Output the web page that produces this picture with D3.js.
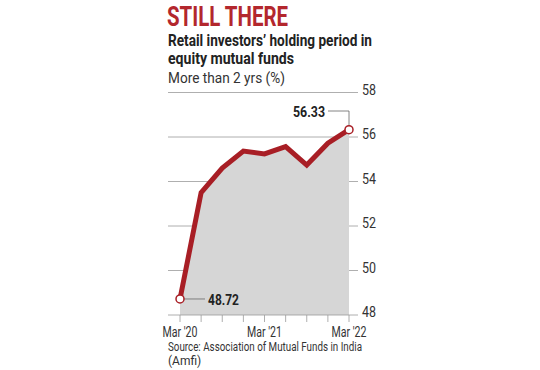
<!DOCTYPE html>
<html>
<head>
<meta charset="utf-8">
<script src="https://cdn.jsdelivr.net/npm/d3@7"></script>
<style>
  body { margin: 0; background: #fff; }
  text { font-family: "Liberation Sans Narrow", "Roboto", sans-serif; }
</style>
</head>
<body>
<div id="chart"></div>
<script>
// data
var quarters = ["Mar '20", "Jun '20", "Sep '20", "Dec '20", "Mar '21", "Jun '21", "Sep '21", "Dec '21", "Mar '22"]
var holding = [48.72, 53.5, 54.6, 55.37, 55.24, 55.57, 54.74, 55.72, 56.33]
var xLabels = ["Mar '20", "Mar '21", "Mar '22"]
var yTicks = [48, 50, 52, 54, 56, 58]

var red = "#a81e25"

var svg = d3.select("#chart")
  .append("svg")
    .attr("width", 540)
    .attr("height", 370)

// scales
var x = d3.scalePoint()
  .domain(quarters)
  .range([180, 349])
var y = d3.scaleLinear()
  .domain([48, 58])
  .range([315, 92.5])

// titles
svg.append("text")
  .attr("x", 167).attr("y", 25.5)
  .attr("font-size", 27).attr("font-weight", "bold")
  .attr("fill", "#b3272d")
  .attr("textLength", 121).attr("lengthAdjust", "spacingAndGlyphs")
  .text("STILL THERE")
svg.append("text")
  .attr("x", 168).attr("y", 46)
  .attr("font-size", 16).attr("font-weight", "bold").attr("fill", "#222")
  .attr("textLength", 204).attr("lengthAdjust", "spacingAndGlyphs")
  .text("Retail investors\u2019 holding period in")
svg.append("text")
  .attr("x", 168).attr("y", 64)
  .attr("font-size", 16).attr("font-weight", "bold").attr("fill", "#222")
  .attr("textLength", 126).attr("lengthAdjust", "spacingAndGlyphs")
  .text("equity mutual funds")
svg.append("text")
  .attr("x", 168).attr("y", 83)
  .attr("font-size", 15).attr("fill", "#333")
  .attr("textLength", 117).attr("lengthAdjust", "spacingAndGlyphs")
  .text("More than 2 yrs (%)")

// grid + y labels
svg.append("g")
  .selectAll("line")
  .data(yTicks.filter(d => d > 48))
  .join("line")
    .attr("x1", 168).attr("x2", 358)
    .attr("y1", d => y(d)).attr("y2", d => y(d))
    .attr("stroke", "#9a9a9a").attr("stroke-width", 0.8)

svg.append("g")
  .selectAll("text")
  .data(yTicks)
  .join("text")
    .attr("x", 362)
    .attr("y", d => y(d) + 2)
    .attr("font-size", 15.5).attr("fill", "#333")
    .attr("textLength", 14).attr("lengthAdjust", "spacingAndGlyphs")
    .text(d => d)

// area
var area = d3.area()
  .x((d, i) => x(quarters[i]))
  .y0(y(48))
  .y1(d => y(d))
svg.append("path")
  .attr("d", area(holding))
  .attr("fill", "#d6d6d6")

// x axis
svg.append("line")
  .attr("x1", 168).attr("x2", 358)
  .attr("y1", y(48)).attr("y2", y(48))
  .attr("stroke", "#9a9a9a").attr("stroke-width", 0.8)
svg.append("g")
  .selectAll("line")
  .data(quarters)
  .join("line")
    .attr("x1", d => x(d)).attr("x2", d => x(d))
    .attr("y1", y(48)).attr("y2", y(48) + 7)
    .attr("stroke", "#9a9a9a").attr("stroke-width", 0.8)
svg.append("g")
  .selectAll("text")
  .data(xLabels)
  .join("text")
    .attr("x", d => x(d))
    .attr("y", 337)
    .attr("text-anchor", "middle")
    .attr("font-size", 15).attr("fill", "#333")
    .attr("textLength", 35).attr("lengthAdjust", "spacingAndGlyphs")
    .text(d => d)

// line
var line = d3.line()
  .x((d, i) => x(quarters[i]))
  .y(d => y(d))
svg.append("path")
  .attr("d", line(holding))
  .attr("fill", "none")
  .attr("stroke", red)
  .attr("stroke-width", 5)
  .attr("stroke-linejoin", "miter")

// annotations
var last = holding.length - 1
svg.append("path")
  .attr("d", "M" + 328 + "," + 111 + "H" + x(quarters[last]) + "V" + (y(holding[last]) - 4))
  .attr("fill", "none").attr("stroke", "#666").attr("stroke-width", 0.8)
svg.append("text")
  .attr("x", 325).attr("y", 117)
  .attr("text-anchor", "end")
  .attr("font-size", 15.5).attr("font-weight", "bold").attr("fill", "#222")
  .attr("textLength", 32).attr("lengthAdjust", "spacingAndGlyphs")
  .text(holding[last].toFixed(2))

svg.append("line")
  .attr("x1", x(quarters[0]) + 4).attr("x2", 205)
  .attr("y1", y(holding[0])).attr("y2", y(holding[0]))
  .attr("stroke", "#666").attr("stroke-width", 0.8)
svg.append("text")
  .attr("x", 208).attr("y", y(holding[0]) + 6)
  .attr("font-size", 15.5).attr("font-weight", "bold").attr("fill", "#222")
  .attr("textLength", 31).attr("lengthAdjust", "spacingAndGlyphs")
  .text(holding[0].toFixed(2))

svg.append("g")
  .selectAll("circle")
  .data([0, last])
  .join("circle")
    .attr("cx", i => x(quarters[i]))
    .attr("cy", i => y(holding[i]))
    .attr("r", 4)
    .attr("fill", "#fff")
    .attr("stroke", red)
    .attr("stroke-width", 1.5)

// source
svg.append("text")
  .attr("x", 168).attr("y", 351)
  .attr("font-size", 12).attr("fill", "#333")
  .attr("style", "font-family: Roboto, sans-serif")
  .attr("textLength", 194).attr("lengthAdjust", "spacingAndGlyphs")
  .text("Source: Association of Mutual Funds in India")
svg.append("text")
  .attr("x", 168).attr("y", 365)
  .attr("font-size", 12).attr("fill", "#333")
  .attr("style", "font-family: Roboto, sans-serif")
  .text("(Amfi)")
</script>
</body>
</html>
